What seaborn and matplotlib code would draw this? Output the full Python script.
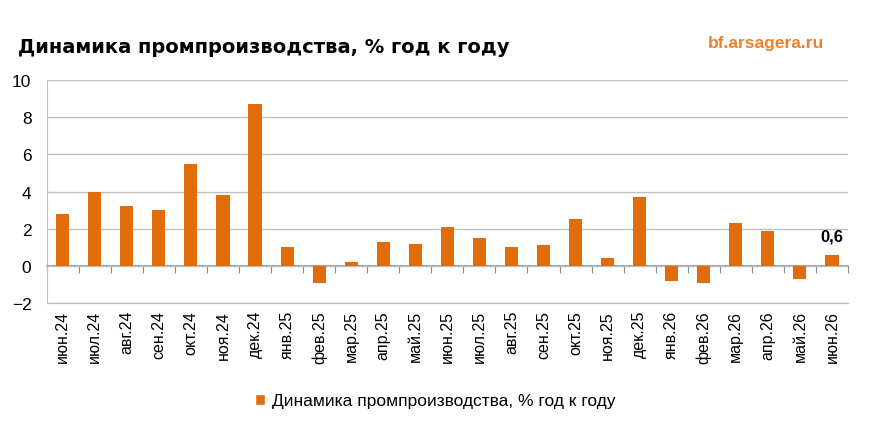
import numpy as np
import pandas as pd
import matplotlib
import seaborn as sns
import matplotlib.pyplot as plt
from matplotlib.patches import Patch

matplotlib.use('Agg')

months = ['июн.24', 'июл.24', 'авг.24', 'сен.24', 'окт.24', 'ноя.24', 'дек.24',
          'янв.25', 'фев.25', 'мар.25', 'апр.25', 'май.25', 'июн.25', 'июл.25',
          'авг.25', 'сен.25', 'окт.25', 'ноя.25', 'дек.25', 'янв.26', 'фев.26',
          'мар.26', 'апр.26', 'май.26', 'июн.26']
values = [2.8, 4.0, 3.2, 3.0, 5.5, 3.8, 8.7,
          1.0, -0.9, 0.2, 1.3, 1.2, 2.1, 1.5,
          1.0, 1.1, 2.5, 0.4, 3.7, -0.8, -0.9,
          2.3, 1.9, -0.7, 0.6]
series_name = 'Динамика промпроизводства, % год к году'
title = 'Динамика промпроизводства, % год к году'

orange = '#E36C0A'
grid_gray = '#BFBFBF'
axis_gray = '#8C8C8C'

sns.set_style('white')
plt.rcParams['font.family'] = ['Liberation Sans', 'DejaVu Sans']
plt.rcParams['text.color'] = 'black'
plt.rcParams['xtick.labelcolor'] = 'black'
plt.rcParams['ytick.labelcolor'] = 'black'

df = pd.DataFrame({'month': months, 'value': values})

fig = plt.figure(figsize=(8.71, 4.27), dpi=100)
ax = fig.add_axes([0.0536, 0.288, 0.92, 0.522])

sns.barplot(data=df, x='month', y='value', color=orange, width=0.41,
            saturation=1, ax=ax, zorder=3, linewidth=0)

ax.set_ylim(-2, 10)
ax.set_xlim(-0.5, len(months) - 0.5)
ax.set_yticks(np.arange(-2, 11, 2))
ax.yaxis.grid(True, color=grid_gray, linewidth=1)
ax.set_axisbelow(True)
ax.set_xlabel('')
ax.set_ylabel('')

for side in ['top', 'right']:
    ax.spines[side].set_visible(False)
ax.spines['left'].set_color(grid_gray)
ax.spines['bottom'].set_color(grid_gray)
ax.spines['bottom'].set_linewidth(1)

ax.tick_params(axis='y', length=5, color=grid_gray, labelsize=12.5, pad=6)
ax.tick_params(axis='x', length=0, labelsize=11.5, rotation=90, pad=5)

# zero line with category boundary ticks
zero = ax.secondary_xaxis(2 / 12)
zero.set_xticks(np.arange(-0.5, len(months), 1))
zero.tick_params(length=5, color=axis_gray, labelbottom=False, direction='out')
zero.spines['bottom'].set_color(axis_gray)
zero.spines['bottom'].set_linewidth(1.2)

# label on last bar
ax.text(len(months) - 1, values[-1] + 0.6, str(values[-1]).replace('.', ','),
        ha='center', va='bottom', fontsize=12, fontweight='bold', color='black')

fig.text(0.021, 0.888, title, fontsize=14, fontweight='bold',
         family='DejaVu Sans', ha='left', va='center', color='black')
fig.text(0.879, 0.897, 'bf.arsagera.ru', fontsize=12.5, fontweight='bold',
         color='#E8822E', ha='center', va='center')

fig.legend(handles=[Patch(facecolor=orange, label=series_name)],
           loc='center', bbox_to_anchor=(0.5, 0.059), frameon=False,
           fontsize=12.5, handlelength=0.6, handleheight=0.6, handletextpad=0.4)

fig.savefig('out.png', dpi=100)
